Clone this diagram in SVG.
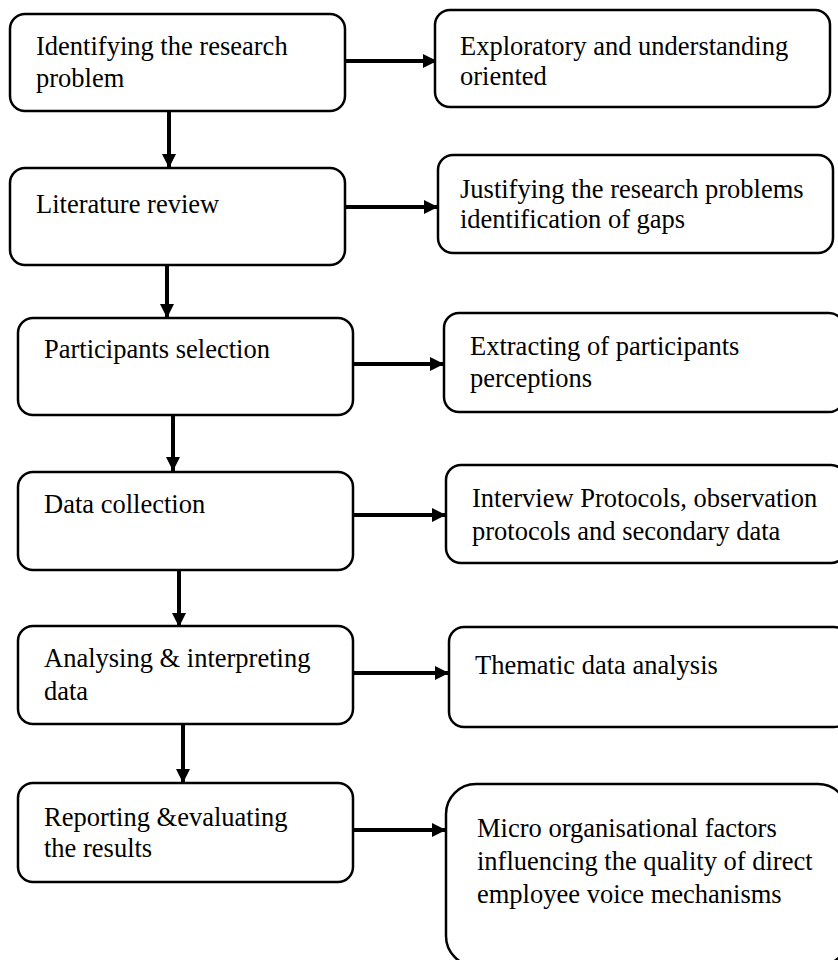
<svg xmlns="http://www.w3.org/2000/svg" width="838" height="960" viewBox="0 0 838 960">
<style>
.box{fill:#fff;stroke:#000;stroke-width:2.5}
.t{font-family:"Liberation Serif","Times New Roman",serif;font-size:26.5px;fill:#000}
.c{stroke:#000;stroke-width:4;fill:none}
</style>
<defs>
<marker id="ah" markerUnits="userSpaceOnUse" markerWidth="16" markerHeight="16" refX="14" refY="7" orient="auto">
<path d="M0,0 L14,7 L0,14 Z" fill="#000"/>
</marker>
</defs>
<rect width="838" height="960" fill="#fff"/>
<g id="connectors">
<line class="c" x1="345" y1="61" x2="437" y2="61" marker-end="url(#ah)"/>
<line class="c" x1="345" y1="207" x2="438" y2="207" marker-end="url(#ah)"/>
<line class="c" x1="353" y1="364" x2="444" y2="364" marker-end="url(#ah)"/>
<line class="c" x1="353" y1="515" x2="446" y2="515" marker-end="url(#ah)"/>
<line class="c" x1="353" y1="673" x2="449" y2="673" marker-end="url(#ah)"/>
<line class="c" x1="353" y1="830" x2="446" y2="830" marker-end="url(#ah)"/>
<line class="c" x1="169" y1="111" x2="169" y2="168" marker-end="url(#ah)"/>
<line class="c" x1="167" y1="265" x2="167" y2="318" marker-end="url(#ah)"/>
<line class="c" x1="173" y1="415" x2="173" y2="471" marker-end="url(#ah)"/>
<line class="c" x1="179" y1="571" x2="179" y2="627" marker-end="url(#ah)"/>
<line class="c" x1="183" y1="724" x2="183" y2="783" marker-end="url(#ah)"/>
</g>
<g id="n1"><rect class="box" x="10" y="14" width="335" height="97" rx="15"/>
<text class="t" x="36" y="55">Identifying the research</text><text class="t" x="36" y="87">problem</text></g>
<g id="n2"><rect class="box" x="10" y="168" width="335" height="97" rx="15"/>
<text class="t" x="36" y="213">Literature review</text></g>
<g id="n3"><rect class="box" x="18" y="318" width="335" height="97" rx="15"/>
<text class="t" x="44" y="358">Participants selection</text></g>
<g id="n4"><rect class="box" x="18" y="472" width="335" height="98" rx="15"/>
<text class="t" x="44" y="513">Data collection</text></g>
<g id="n5"><rect class="box" x="18" y="626" width="335" height="98" rx="15"/>
<text class="t" x="44" y="667">Analysing &amp; interpreting</text><text class="t" x="44" y="700">data</text></g>
<g id="n6"><rect class="box" x="18" y="783" width="335" height="99" rx="15"/>
<text class="t" x="44" y="826">Reporting &amp;evaluating</text><text class="t" x="44" y="857">the results</text></g>
<g id="r1"><rect class="box" x="435" y="10" width="395" height="97" rx="15"/>
<text class="t" x="460" y="55">Exploratory and understanding</text><text class="t" x="460" y="85">oriented</text></g>
<g id="r2"><rect class="box" x="438" y="155" width="395" height="98" rx="15"/>
<text class="t" x="460" y="198">Justifying the research problems</text><text class="t" x="460" y="228">identification of gaps</text></g>
<g id="r3"><rect class="box" x="444" y="313" width="400" height="99" rx="15"/>
<text class="t" x="470" y="355">Extracting of participants</text><text class="t" x="470" y="387">perceptions</text></g>
<g id="r4"><rect class="box" x="446" y="465" width="400" height="98" rx="15"/>
<text class="t" x="472" y="507">Interview Protocols, observation</text><text class="t" x="472" y="540">protocols and secondary data</text></g>
<g id="r5"><rect class="box" x="449" y="627" width="400" height="100" rx="15"/>
<text class="t" x="475" y="674">Thematic data analysis</text></g>
<g id="r6"><rect class="box" x="446" y="784" width="402" height="182" rx="30"/>
<text class="t" x="477" y="837">Micro organisational factors</text><text class="t" x="477" y="870">influencing the quality of direct</text><text class="t" x="477" y="903">employee voice mechanisms</text></g>
</svg>
